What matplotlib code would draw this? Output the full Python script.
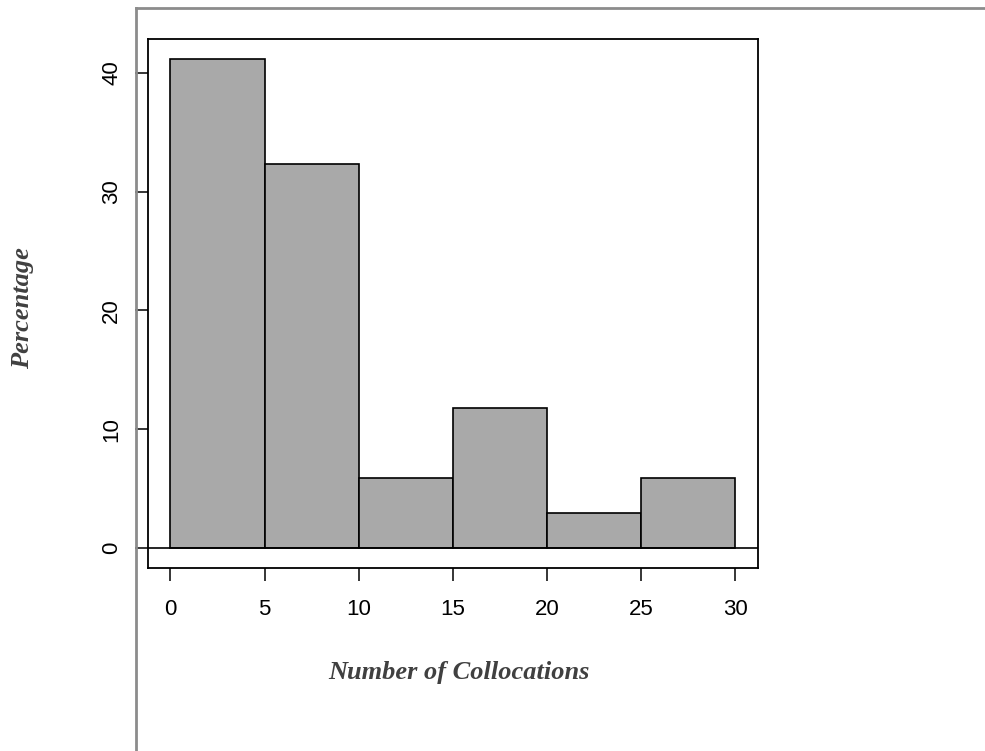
import numpy as np
import matplotlib.pyplot as plt
from matplotlib.lines import Line2D

# histogram of collocation counts, shown as percentages
bin_edges = [0, 5, 10, 15, 20, 25, 30]
percent = [41.18, 32.35, 5.88, 11.76, 2.94, 5.88]
xticks = [0, 5, 10, 15, 20, 25, 30]
yticks = [0, 10, 20, 30, 40]

fig = plt.figure(figsize=[9.85, 7.51], dpi=100)
ax = fig.add_axes([0.15, 0.2441, 0.6195, 0.7039])

widths = np.diff(bin_edges)
ax.bar(bin_edges[:-1], percent, width=widths, align='edge',
       color='#a9a9a9', edgecolor='black', linewidth=1.2)
ax.axhline(0, color='black', linewidth=1.2)

ax.set_xlim(-1.2, 31.2)
ax.set_ylim(-0.04 * max(percent), 1.04 * max(percent))
ax.set_xticks(xticks)
ax.set_yticks(yticks)
for s in ax.spines.values():
    s.set_linewidth(1.3)

ax.tick_params(axis='both', length=9.5, width=1.1, labelsize=16)
ax.tick_params(axis='x', pad=13)
ax.tick_params(axis='y', pad=9)
for lab in ax.get_xticklabels() + ax.get_yticklabels():
    lab.set_family('Liberation Sans')
for lab in ax.get_yticklabels():
    lab.set_rotation(90)
    lab.set_va('center')

lab_font = dict(family='Liberation Serif', style='italic', weight='bold',
                size=19, color='#404040')
fig.text(459 / 985, 1 - 673 / 751, 'Number of Collocations',
         ha='center', va='center', **lab_font)
fig.text(23 / 985, 1 - 308 / 751, 'Percentage', rotation=90,
         ha='center', va='center', **lab_font)

# grey frame lines at top and left of the figure
gx = 136 / 985
gy = 1 - 7.5 / 751
fig.add_artist(Line2D([gx, 1], [gy, gy], color='#8c8c8c', linewidth=2))
fig.add_artist(Line2D([gx, gx], [gy, 0], color='#8c8c8c', linewidth=2))

fig.savefig('out.png', dpi=100)
